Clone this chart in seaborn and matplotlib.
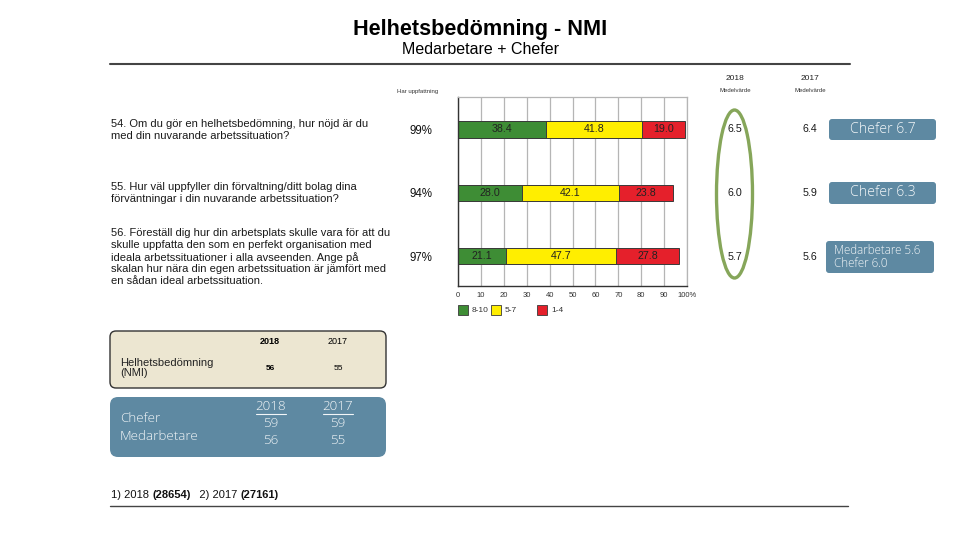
import matplotlib
matplotlib.use("Agg")
import matplotlib.pyplot as plt
from matplotlib.patches import Ellipse, FancyBboxPatch, Rectangle
import seaborn as sns
import pandas as pd
import numpy as np

# ---------------- data ----------------
questions = [
    "54. Om du gör en helhetsbedömning, hur nöjd är du\nmed din nuvarande arbetssituation?",
    "55. Hur väl uppfyller din förvaltning/ditt bolag dina\nförväntningar i din nuvarande arbetssituation?",
    "56. Föreställ dig hur din arbetsplats skulle vara för att du\nskulle uppfatta den som en perfekt organisation med\nideala arbetssituationer i alla avseenden. Ange på\nskalan hur nära din egen arbetssituation är jämfört med\nen sådan ideal arbetssituation.",
]
q_ids = ["54", "55", "56"]
har_uppfattning = ["99%", "94%", "97%"]
share_8_10 = [38.4, 28.0, 21.1]
share_5_7 = [41.8, 42.1, 47.7]
share_1_4 = [19.0, 23.8, 27.8]
mean_2018 = ["6.5", "6.0", "5.7"]
mean_2017 = ["6.4", "5.9", "5.6"]
callouts = ["Chefer 6.7", "Chefer 6.3", "Medarbetare 5.6\nChefer 6.0"]
legend_labels = ["8-10", "5-7", "1-4"]
x_ticks = [0, 10, 20, 30, 40, 50, 60, 70, 80, 90, 100]
x_ticklabels = ["0", "10", "20", "30", "40", "50", "60", "70", "80", "90", "100%"]
nmi_years = ["2018", "2017"]
nmi_total = ["56", "55"]
nmi_chefer = ["59", "59"]
nmi_medarbetare = ["56", "55"]
footer_parts = [("1) 2018 ", "normal"), ("(28654)", "bold"), ("   2) 2017 ", "normal"), ("(27161)", "bold")]

GREEN = "#3e8d35"
YELLOW = "#ffee00"
RED = "#e5202b"
BLUE = "#5e89a2"
TAN = "#ece6d1"
OLIVE = "#86a65a"

sns.set_style("white")
plt.rcParams["font.family"] = ["Liberation Sans", "DejaVu Sans"]
plt.rcParams["text.color"] = "black"

fig = plt.figure(figsize=(9.6, 5.4), dpi=100)

# overlay axes in pixel coordinates
ov = fig.add_axes([0, 0, 1, 1])
ov.set_xlim(0, 960)
ov.set_ylim(540, 0)
ov.axis("off")

# ---------------- bar chart ----------------
ax = fig.add_axes([458 / 960, 1 - 286 / 540, (687 - 458) / 960, (286 - 97) / 540])
df = pd.DataFrame({"q": q_ids, "g": share_8_10, "y": share_5_7, "r": share_1_4})
df["cum_y"] = df["g"] + df["y"]
df["cum_r"] = df["cum_y"] + df["r"]

kw = dict(orient="h", width=0.26, edgecolor="#3a3a3a", linewidth=0.7, saturation=1, ax=ax, order=q_ids)
sns.barplot(data=df, x="cum_r", y="q", color=RED, **kw)
sns.barplot(data=df, x="cum_y", y="q", color=YELLOW, **kw)
sns.barplot(data=df, x="g", y="q", color=GREEN, **kw)

for i in range(len(q_ids)):
    starts = [0, df["g"][i], df["cum_y"][i]]
    vals = [df["g"][i], df["y"][i], df["r"][i]]
    for s, v in zip(starts, vals):
        ax.text(s + v / 2, i, f"{v:.1f}", ha="center", va="center", fontsize=7.7, color="#222222")

ax.set_xlim(0, 100)
ax.set_ylim(2.47, -0.51)
ax.set_xticks(x_ticks)
ax.set_xticklabels(x_ticklabels, fontsize=5.5, color="#333333")
ax.set_yticks(range(len(q_ids)))
ax.set_yticklabels(har_uppfattning, fontsize=8.3, color="#111111")
ax.tick_params(axis="y", length=0, pad=18.5)
ax.tick_params(axis="x", length=0, pad=4)
ax.set_xlabel("")
ax.set_ylabel("")
ax.xaxis.grid(True, color="#b5b5b5", lw=0.9)
ax.set_axisbelow(True)
for side in ["top", "right"]:
    ax.spines[side].set_color("#b5b5b5")
    ax.spines[side].set_linewidth(0.9)
for side in ["left", "bottom"]:
    ax.spines[side].set_color("#333333")
    ax.spines[side].set_linewidth(1.0)

# ---------------- titles & lines ----------------
ov.text(480, 30, "Helhetsbedömning - NMI", ha="center", va="center", fontsize=15.6, fontweight="bold")
ov.text(480, 50, "Medarbetare + Chefer", ha="center", va="center", fontsize=11.5)
ov.plot([110, 850], [63.5, 63.5], color="#444444", lw=1.5)
ov.plot([110, 848], [505.5, 505.5], color="#444444", lw=1.0)

# questions
q_y = [130, 193, 257]
for q, y in zip(questions, q_y):
    ov.text(111, y, q, ha="left", va="center", fontsize=8.0, color="#1a1a1a", linespacing=1.2)

ov.text(397, 91, "Har uppfattning", ha="left", va="center", fontsize=4.3, color="#333333")

# mean columns
for xc, yr, vals in [(735, "2018", mean_2018), (810, "2017", mean_2017)]:
    ov.text(xc, 78, yr, ha="center", va="center", fontsize=6, color="#222222")
    ov.text(xc, 91, "Medelvärde", ha="center", va="center", fontsize=4.3, color="#333333")
    for v, y in zip(vals, [129.5, 192.5, 256.5]):
        ov.text(xc, y, v, ha="center", va="center", fontsize=7.7, color="#1a1a1a")

ov.add_patch(Ellipse((734.5, 194), 36, 168, fill=False, edgecolor=OLIVE, lw=2.4))

# callout boxes
light = dict(family=["Open Sans", "DejaVu Sans"], fontweight="light", color="#f2f6f8")
boxes = [(829, 119, 107, 21), (829, 182, 107, 22), (826, 241, 108, 32)]
for (bx, by, bw, bh), txt in zip(boxes, callouts):
    ov.add_patch(FancyBboxPatch((bx + 2, by + 2), bw - 4, bh - 4,
                                boxstyle="round,pad=2,rounding_size=3",
                                facecolor=BLUE, edgecolor="none"))
    if "\n" in txt:
        ov.text(bx + 8, by + bh / 2, txt, ha="left", va="center", fontsize=8.4,
                linespacing=1.05, **light)
    else:
        ov.text(bx + bw / 2, by + bh / 2, txt, ha="center", va="center", fontsize=10.2, **light)

# legend
leg_items = [(458, GREEN), (491, YELLOW), (537, RED)]
for (lx, col), lab in zip(leg_items, legend_labels):
    ov.add_patch(Rectangle((lx, 305), 10, 10, facecolor=col, edgecolor="#3a3a3a", lw=0.6))
    ov.text(lx + 14, 310.5, lab, ha="left", va="center", fontsize=6, color="#333333")

# NMI tan box
ov.add_patch(FancyBboxPatch((113, 334), 270, 51, boxstyle="round,pad=3,rounding_size=6",
                            facecolor=TAN, edgecolor="#333333", lw=1.0))
ov.text(270, 342, nmi_years[0], ha="center", va="center", fontsize=6.5, fontweight="bold")
ov.text(338, 342, nmi_years[1], ha="center", va="center", fontsize=6.5)
ov.text(120, 368, "Helhetsbedömning\n(NMI)", ha="left", va="center", fontsize=8.0,
        linespacing=1.12, color="#222222")
ov.text(270, 368, nmi_total[0], ha="center", va="center", fontsize=6, fontweight="bold")
ov.text(338, 368, nmi_total[1], ha="center", va="center", fontsize=6)

# blue NMI box
ov.add_patch(FancyBboxPatch((114, 401), 268, 52, boxstyle="round,pad=4,rounding_size=8",
                            facecolor=BLUE, edgecolor="none"))
ov.text(120, 419, "Chefer", ha="left", va="center", fontsize=9.6, **light)
ov.text(120, 436.5, "Medarbetare", ha="left", va="center", fontsize=9.6, **light)
for xc, yr, c, m in [(271, nmi_years[0], nmi_chefer[0], nmi_medarbetare[0]),
                     (338, nmi_years[1], nmi_chefer[1], nmi_medarbetare[1])]:
    ov.text(xc, 406, yr, ha="center", va="center", fontsize=9.6, **light)
    ov.plot([xc - 15, xc + 15], [413.5, 413.5], color="#f2f6f8", lw=0.8)
    ov.text(xc, 423.5, c, ha="center", va="center", fontsize=9.6, **light)
    ov.text(xc, 440.5, m, ha="center", va="center", fontsize=9.6, **light)

# footer with mixed weights
fig.canvas.draw()
renderer = fig.canvas.get_renderer()
x = 111
for txt, w in footer_parts:
    t = ov.text(x, 495, txt, ha="left", va="center", fontsize=8.0, fontweight=w, color="#111111")
    bb = t.get_window_extent(renderer=renderer)
    x += bb.width  # pixel units equal data units on overlay

fig.savefig("out.png", dpi=100)
